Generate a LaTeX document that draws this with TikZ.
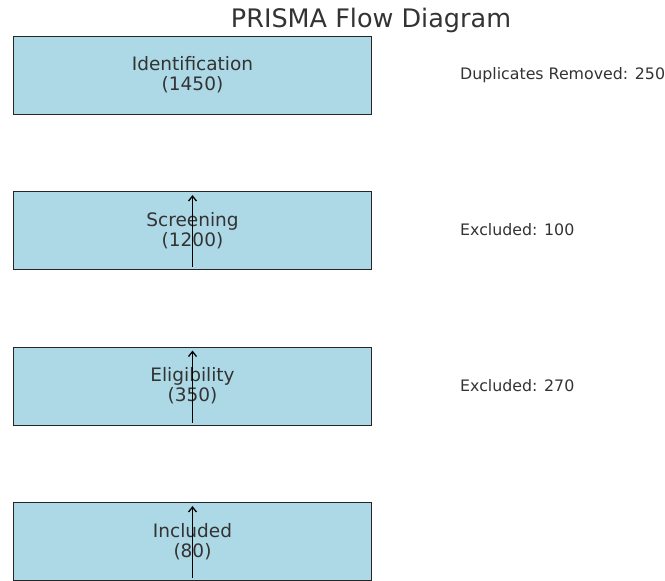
\documentclass[tikz,border=0pt]{standalone}
\usepackage{fontspec}
\setmainfont{DejaVu Sans}
\usetikzlibrary{arrows.meta}
\definecolor{boxfill}{HTML}{ADD8E6}
\definecolor{txt}{HTML}{333333}
\begin{document}
\begin{tikzpicture}[x=1pt,y=-1pt,
  stagebox/.style={draw=black!85, line width=1pt, fill=boxfill, minimum width=358pt, minimum height=78pt, inner sep=0pt, align=center, text=txt, font=\fontsize{18.5}{20}\selectfont},
  sidelabel/.style={anchor=west, inner sep=0pt, text=txt, font=\fontsize{15.8}{18}\selectfont},
  flowarrow/.style={-{Straight Barb[length=5pt,width=8pt]}, line width=1.3pt, black}]
\useasboundingbox (0,0) rectangle (665,581);
\node[anchor=center, text=txt, font=\fontsize{25.5}{28}\selectfont, inner sep=0pt] (title) at (371,20) {PRISMA Flow Diagram};
\node[stagebox] (id) at (192.5,75) {Identification\\(1450)};
\node[stagebox] (sc) at (192.5,230.5) {Screening\\(1200)};
\node[stagebox] (el) at (192.5,386) {Eligibility\\(350)};
\node[stagebox] (in) at (192.5,541.5) {Included\\(80)};
\node[sidelabel] (dup) at (460,75) {Duplicates Removed: 250};
\node[sidelabel] (ex1) at (460,230) {Excluded: 100};
\node[sidelabel] (ex2) at (460,386) {Excluded: 270};
\foreach \n in {sc,el,in}{
  \draw[flowarrow] ([yshift=3pt]\n.south) -- ([yshift=-4pt]\n.north);
}
\end{tikzpicture}
\end{document}
